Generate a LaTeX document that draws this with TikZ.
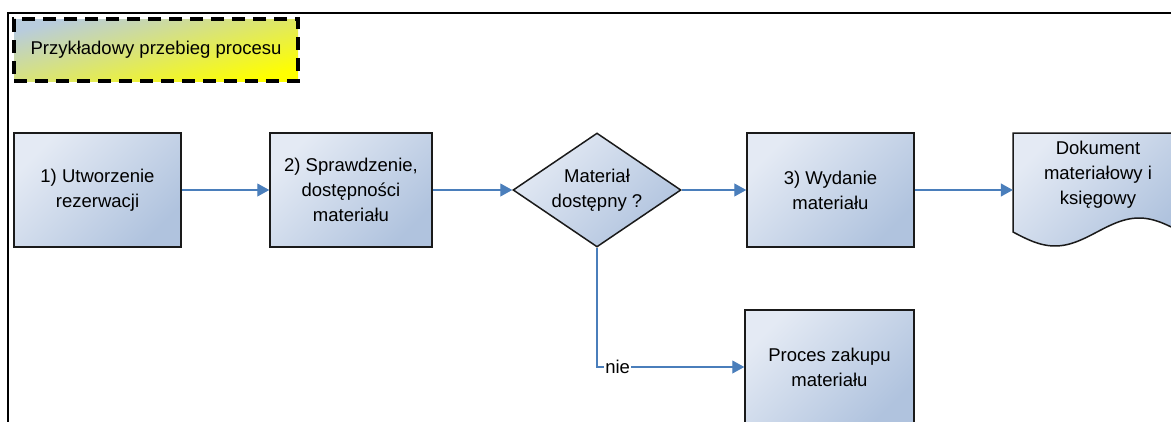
\documentclass[tikz,border=0pt]{standalone}
\usepackage{fontspec}
\setmainfont{Liberation Sans}
\usetikzlibrary{arrows.meta,shapes.geometric}
\definecolor{connblue}{HTML}{4A7EBB}
\definecolor{boxlight}{HTML}{E4EAF4}
\definecolor{boxdark}{HTML}{B0C3DE}
\definecolor{edgedark}{HTML}{1A1A1A}
\definecolor{titlegray}{HTML}{B8CCDD}
\definecolor{titlemid}{HTML}{F5F52A}
\tikzset{
  basefont/.style={font=\fontsize{18.5}{25}\selectfont},
  procbox/.style={basefont, rectangle, draw=edgedark, line width=1.5pt,
    top color=boxlight, bottom color=boxdark, shading angle=45,
    align=center, inner sep=0pt},
  decision/.style={basefont, diamond, aspect=1.47, draw=edgedark, line width=1.5pt,
    top color=boxlight, bottom color=boxdark, shading angle=45,
    align=center, inner sep=-4pt, minimum width=168pt, minimum height=114pt},
  connline/.style={draw=connblue, line width=1.1pt,
    -{Triangle[length=12pt,width=13pt,fill=connblue]}},
  titlebox/.style={basefont, rectangle, draw=black, line width=3.2pt,
    dash pattern=on 13pt off 8pt,
    top color=titlegray, middle color=titlemid, bottom color=yellow, shading angle=15,
    align=center, minimum width=284pt, minimum height=62pt, inner sep=0pt},
  frameline/.style={draw=black, line width=2pt},
  plaintext/.style={basefont, align=center, inner sep=0pt},
}
\begin{document}
\begin{tikzpicture}[x=1pt,y=-1pt]
\useasboundingbox (0,0) rectangle (1171,421);
\clip (0,0) rectangle (1171,421);
\fill[white] (0,0) rectangle (1171,421);

% outer frame (cropped)
\coordinate (frameA) at (8,430);
\coordinate (frameB) at (8,13);
\coordinate (frameC) at (1180,13);
\draw[frameline] (frameA) -- (frameB) -- (frameC);

% title
\node[titlebox] (title) at (156,50) {Przykładowy przebieg procesu};

% process boxes
\node[procbox, minimum width=167pt, minimum height=114pt] (b1) at (97.5,190) {1) Utworzenie\\rezerwacji};
\node[procbox, minimum width=162pt, minimum height=114pt] (b2) at (351,190) {2) Sprawdzenie,\\dostępności\\materiału};
\node[decision] (dia) at (597,190) {Materiał\\dostępny ?};
\node[procbox, minimum width=167pt, minimum height=114pt] (b3) at (830.5,190) {3) Wydanie\\materiału};
\node[procbox, minimum width=169pt, minimum height=114pt] (proc) at (829.5,367) {Proces zakupu\\materiału};

% document shape
\path[draw=edgedark, line width=1.5pt, top color=boxlight, bottom color=boxdark, shading angle=45]
  (1013,133) -- (1181,133) --
  plot[domain=168:0, samples=50] ({1013+\x}, {232+14*sin(2.142857*\x)}) -- cycle;
\node[rectangle, minimum width=168pt, minimum height=114pt, inner sep=0pt] (doc) at (1097,190) {};
\node[plaintext] (doctext) at (1098,175) {Dokument\\materiałowy i\\księgowy};

% connectors
\draw[connline] (b1.east) -- (b2.west);
\draw[connline] (b2.east) -- (dia.west);
\draw[connline] (dia.east) -- (b3.west);
\draw[connline] (b3.east) -- (doc.west);
\draw[connline] (dia.south) |- node[pos=0.57, basefont, fill=white, inner sep=1pt] (nie) {nie} (proc.west);
\end{tikzpicture}
\end{document}
